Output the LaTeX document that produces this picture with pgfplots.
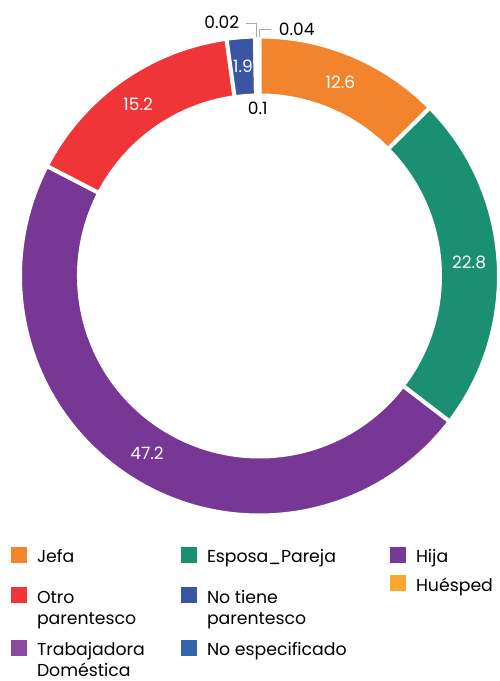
\documentclass[border=0pt]{standalone}
\usepackage{pgfplots}
\usepackage{pgfplotstable}
\pgfplotsset{compat=1.18}
\usepackage{fontspec}
\setmainfont{Poppins}
\definecolor{cJefa}{HTML}{F3842E}
\definecolor{cEsposa}{HTML}{1A8F72}
\definecolor{cHija}{HTML}{773794}
\definecolor{cHuesped}{HTML}{FAA72B}
\definecolor{cOtro}{HTML}{EF3537}
\definecolor{cNoTiene}{HTML}{3A55A4}
\definecolor{cTrab}{HTML}{8B4A9F}
\definecolor{cNoEsp}{HTML}{3264AF}
\definecolor{cLead}{HTML}{AAAAAA}
\newcommand\lf{\fontsize{17.3}{21}\selectfont}
\newcommand\nf{\fontsize{17}{20}\selectfont}
\pgfplotstableread{
name value color
Jefa 12.6 cJefa
Esposa 22.8 cEsposa
Hija 47.2 cHija
Otro 15.2 cOtro
NoTiene 1.9 cNoTiene
Huesped 0.02 cHuesped
Trab 0.1 cTrab
NoEsp 0.04 cNoEsp
}\datatable
\def\cx{259.5}\def\cy{405}
\def\Ro{239.5}\def\Ri{180.5}
\pgfmathsetmacro\W{\Ro-\Ri}
\def\slices{}\def\labels{}\def\cum{0}
\pgfplotsforeachungrouped \i in {0,...,7}{%
  \pgfplotstablegetelem{\i}{value}\of\datatable \let\v\pgfplotsretval
  \pgfplotstablegetelem{\i}{color}\of\datatable \let\c\pgfplotsretval
  \pgfmathsetmacro\a{90-3.6*\cum}%
  \pgfmathsetmacro\b{90-3.6*(\cum+\v)}%
  \pgfmathsetmacro\cum{\cum+\v}%
  \pgfmathsetmacro\m{(\a+\b)/2}%
  \pgfmathsetmacro\lx{\cx+210*cos(\m)}%
  \pgfmathsetmacro\ly{\cy+210*sin(\m)}%
  \xdef\slices{\unexpanded\expandafter{\slices}%
    \noexpand\fill[\c, draw=white, line width=4pt] (axis cs:\cx,\cy) ++(\a:\Ro pt) arc[start angle=\a, end angle=\b, radius=\Ro pt] -- ++(\b:-\W pt) arc[start angle=\b, end angle=\a, radius=\Ri pt] -- cycle;}%
  \ifnum\i<5
    \xdef\labels{\unexpanded\expandafter{\labels}%
      \noexpand\node[text=white, font=\noexpand\nf, inner sep=0pt] at (axis cs:\lx,\ly) {\v};}%
  \fi
}
\pgfplotsset{
  myax/.style={at={(0,0)}, anchor=south west, x=1pt, y=1pt,
    xmin=0, xmax=499, ymin=0, ymax=681, hide axis, clip=false},
  myleg/.style 2 args={legend style={draw=none, fill=none, inner sep=0pt, outer sep=0pt,
    at={(#1,0.197)}, anchor=north west, row sep=#2,
    nodes={inner sep=0pt},
    cells={anchor=base west, align=left, font=\lf},
    /tikz/every odd column/.style={column sep=10pt}}},
  sq/.style={legend image code/.code={\fill[##1] (0pt,0pt) rectangle (16pt,16pt);}},
  sqd/.style={legend image code/.code={\fill[##1] (0pt,0pt) rectangle (16pt,16pt);\path (0pt,-10.5pt);}},
  sqm/.style={legend image code/.code={\fill[##1] (0pt,21pt) rectangle (16pt,37pt);\path (0pt,0pt);}},
}
\begin{document}
\begin{tikzpicture}
\useasboundingbox (0,0) rectangle (499pt,681pt);
\begin{axis}[myax, myleg={0.022044}{14pt}]
\slices
\labels
\addplot[cLead, line width=1pt, forget plot] coordinates {(245.7,657.7) (256.7,657.7) (256.7,643.7)};
\addplot[cLead, line width=1pt, forget plot] coordinates {(270.7,651) (259.3,651) (259.3,644)};
\node[font=\nf, inner sep=0pt] at (axis cs:257.7,572.7) {0.1};
\node[font=\nf, inner sep=0pt] at (axis cs:221.7,658.3) {0.02};
\node[font=\nf, inner sep=0pt] at (axis cs:296.7,651.7) {0.04};
\addlegendimage{sqd, fill=cJefa, draw=none}\addlegendentry{Jefa}
\addlegendimage{sqm, fill=cOtro, draw=none}\addlegendentry{Otro\\parentesco}
\addlegendimage{sqm, fill=cTrab, draw=none}\addlegendentry{Trabajadora\\Doméstica}
\end{axis}
\begin{axis}[myax, myleg={0.362725}{14pt}]
\addlegendimage{sqd, fill=cEsposa, draw=none}\addlegendentry{Esposa\_Pareja}
\addlegendimage{sqm, fill=cNoTiene, draw=none}\addlegendentry{No tiene\\parentesco}
\addlegendimage{sq, fill=cNoEsp, draw=none}\addlegendentry{No especificado}
\end{axis}
\begin{axis}[myax, myleg={0.781563}{10.7pt}]
\addlegendimage{sq, fill=cHija, draw=none}\addlegendentry{Hija}
\addlegendimage{sq, fill=cHuesped, draw=none}\addlegendentry{Huésped}
\end{axis}
\end{tikzpicture}
\end{document}
